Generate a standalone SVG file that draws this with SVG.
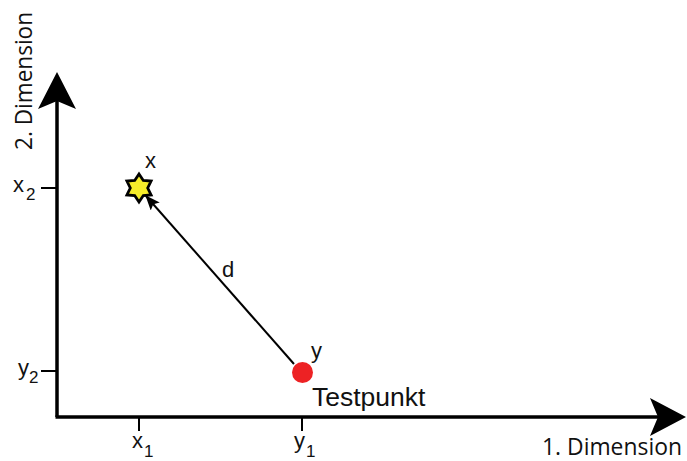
<svg xmlns="http://www.w3.org/2000/svg" width="687" height="461" viewBox="0 0 687 461">
<style>
.t{font-family:"Liberation Sans",Arial,sans-serif;font-size:22px;fill:#111}
.s{font-family:"Liberation Sans",Arial,sans-serif;font-size:17px;fill:#111}
.dim{font-family:"Open Sans","Noto Sans",sans-serif;font-size:23.5px;fill:#111}
.ax{stroke:#000;stroke-width:3.5;fill:none}
.tick{stroke:#000;stroke-width:2;fill:none}
</style>
<defs>
<marker id="ah" markerWidth="15" markerHeight="12" refX="14" refY="6" orient="auto" markerUnits="userSpaceOnUse" viewBox="0 0 15 12">
<path d="M0,0 L15,6 L0,12 L3,6 Z" fill="#000"/>
</marker>
</defs>
<g id="axes">
<line class="ax" x1="57" y1="417" x2="57" y2="100"/>
<path d="M57,72 L76,109 L57,101 L38,109 Z" fill="#000"/>
<line class="ax" x1="55.5" y1="417" x2="660" y2="417"/>
<path d="M686,417 L650,436 L658,417 L650,398 Z" fill="#000"/>
</g>
<g id="ticks">
<line class="tick" x1="41" y1="188" x2="57" y2="188"/>
<line class="tick" x1="41" y1="371" x2="57" y2="371"/>
<line class="tick" x1="139" y1="417" x2="139" y2="431"/>
<line class="tick" x1="302" y1="417" x2="302" y2="431"/>
</g>
<g id="connectors">
<line x1="294" y1="364" x2="146" y2="196" stroke="#000" stroke-width="2" marker-end="url(#ah)"/>
</g>
<g id="star-x">
<polygon points="139,174 143.3,180.5 151.1,181 147.7,188 151.1,195 143.3,195.5 139,202 134.7,195.5 126.9,195 130.3,188 126.9,181 134.7,180.5" fill="#f5ec2a" stroke="#000" stroke-width="2.8" stroke-linejoin="miter"/>
</g>
<g id="point-y">
<circle cx="302.5" cy="372.5" r="10.5" fill="#ed2224"/>
</g>
<g id="labels">
<text class="t" x="145" y="168">x</text>
<text class="t" x="222" y="277">d</text>
<text class="t" x="311" y="358">y</text>
<text class="t" x="312" y="406" style="font-size:26.5px">Testpunkt</text>
<text class="t" x="13" y="192">x</text><text class="s" x="26" y="200">2</text>
<text class="t" x="18" y="375">y</text><text class="s" x="29" y="383">2</text>
<text class="t" x="132" y="448">x</text><text class="s" x="144" y="457">1</text>
<text class="t" x="294" y="448">y</text><text class="s" x="306" y="457">1</text>
<text class="dim" x="542" y="455" textLength="140" lengthAdjust="spacingAndGlyphs">1. Dimension</text>
<text class="dim" transform="translate(32,150) rotate(-90)" textLength="138" lengthAdjust="spacingAndGlyphs">2. Dimension</text>
</g>
</svg>
